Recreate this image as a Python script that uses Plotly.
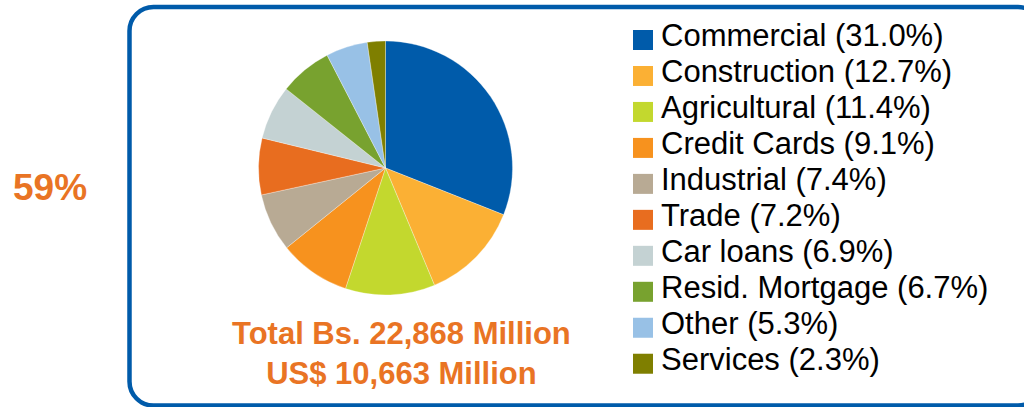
import plotly.graph_objects as go

# Loan portfolio by sector (% of total)
sectors = ["Commercial", "Construction", "Agricultural", "Credit Cards", "Industrial",
           "Trade", "Car loans", "Resid. Mortgage", "Other", "Services"]
shares = [31.0, 12.7, 11.4, 9.1, 7.4, 7.2, 6.9, 6.7, 5.3, 2.3]
colors = ["#005BAA", "#FBB034", "#C3D82E", "#F7921E", "#B8AA94",
          "#E86D1F", "#C4D2D3", "#78A22F", "#98C1E6", "#7F7F00"]

side_label = "59%"
total_lines = ["Total Bs. 22,868 Million", "US$ 10,663 Million"]

W, H = 1024, 407
ORANGE = "#E97424"
BLUE = "#005BAA"
FONT = "Arial, Liberation Sans, sans-serif"


def px(x):
    return x / W


def py(y):
    return 1 - y / H


def rounded_rect(x0, y0, x1, y1, r):
    # rounded rectangle as an SVG path in paper coordinates (pixel inputs)
    k = 0.5523 * r
    pts = [
        ("M", [(x0 + r, y0)]),
        ("L", [(x1 - r, y0)]),
        ("C", [(x1 - r + k, y0), (x1, y0 + r - k), (x1, y0 + r)]),
        ("L", [(x1, y1 - r)]),
        ("C", [(x1, y1 - r + k), (x1 - r + k, y1), (x1 - r, y1)]),
        ("L", [(x0 + r, y1)]),
        ("C", [(x0 + r - k, y1), (x0, y1 - r + k), (x0, y1 - r)]),
        ("L", [(x0, y0 + r)]),
        ("C", [(x0, y0 + r - k), (x0 + r - k, y0), (x0 + r, y0)]),
    ]
    out = []
    for cmd, coords in pts:
        out.append(cmd + " ".join(f"{px(x):.5f},{py(y):.5f}" for x, y in coords))
    return " ".join(out) + " Z"


# pie geometry (pixels)
cx, cy, rad = 385.5, 168.0, 127.0

fig = go.Figure(go.Pie(
    labels=sectors,
    values=shares,
    marker=dict(colors=colors, line=dict(color="rgba(255,255,255,0.6)", width=0.5)),
    sort=False,
    direction="clockwise",
    rotation=0,
    textinfo="none",
    hoverinfo="label+percent",
    showlegend=False,
    domain=dict(x=[px(cx - rad), px(cx + rad)], y=[py(cy + rad), py(cy - rad)]),
))

shapes = [dict(
    type="path", xref="paper", yref="paper",
    path=rounded_rect(129.5, 7, 1042, 405.5, 24),
    line=dict(color=BLUE, width=4.5),
    fillcolor="rgba(0,0,0,0)",
    layer="below",
)]

annotations = []

# legend: colour squares and labels
row0, row_gap, sq = 40.0, 35.97, 20.0
for i, (name, val, col) in enumerate(zip(sectors, shares, colors)):
    yc = row0 + i * row_gap
    shapes.append(dict(
        type="rect", xref="paper", yref="paper",
        x0=px(633), x1=px(633 + sq), y0=py(yc + sq / 2), y1=py(yc - sq / 2),
        fillcolor=col, line=dict(width=0),
    ))
    annotations.append(dict(
        xref="paper", yref="paper", x=px(659), y=py(yc - 4),
        xanchor="left", yanchor="middle", showarrow=False,
        text=f"{name} ({val:.1f}%)",
        font=dict(family=FONT, size=31, color="#000000"),
    ))

annotations.append(dict(
    xref="paper", yref="paper", x=px(49.5), y=py(187),
    xanchor="center", yanchor="middle", showarrow=False,
    text=f"<b>{side_label}</b>",
    font=dict(family=FONT, size=37, color=ORANGE),
))

annotations.append(dict(
    xref="paper", yref="paper", x=px(401.5), y=py(353.5),
    xanchor="center", yanchor="middle", showarrow=False,
    text="<br>".join(f"<b>{t}</b>" for t in total_lines),
    font=dict(family=FONT, size=31, color=ORANGE),
))

fig.update_layout(
    width=W, height=H,
    margin=dict(l=0, r=0, t=0, b=0),
    paper_bgcolor="white",
    plot_bgcolor="white",
    shapes=shapes,
    annotations=annotations,
)

fig.write_html("out.html")
